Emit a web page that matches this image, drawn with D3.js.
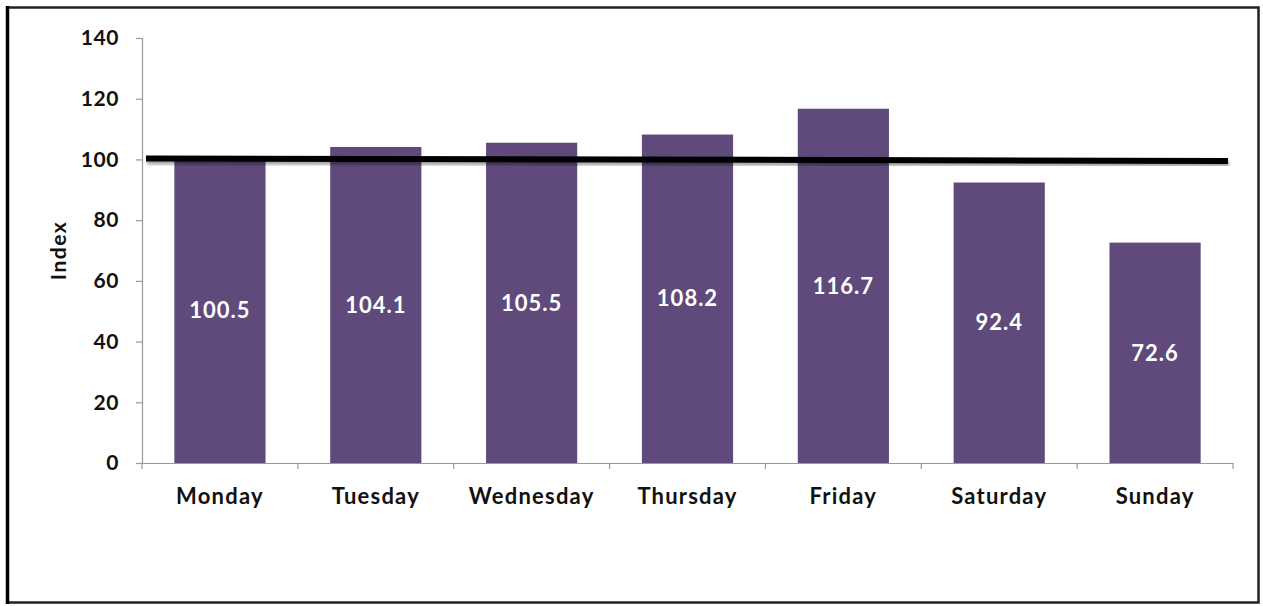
<!DOCTYPE html>
<html><head><meta charset="utf-8">
<script src="https://cdn.jsdelivr.net/npm/d3@7"></script>
<style>html,body{margin:0;padding:0;background:#fff;}svg{display:block;}</style>
</head><body>
<svg id="chart" width="1263" height="606"></svg>
<script>
const categories = ["Monday","Tuesday","Wednesday","Thursday","Friday","Saturday","Sunday"];
const values = [100.5, 104.1, 105.5, 108.2, 116.7, 92.4, 72.6];
const yTicks = [0, 20, 40, 60, 80, 100, 120, 140];
const referenceValue = 100;
const yLabel = "Index";

(function(){
const svg = d3.select("#chart");
const font = "Lato, 'Open Sans', sans-serif";

const defs = svg.append("defs");
const f = defs.append("filter").attr("id","sh").attr("x","-5%").attr("y","-200%").attr("width","110%").attr("height","500%");
f.append("feDropShadow").attr("dx",1).attr("dy",3).attr("stdDeviation",1.6).attr("flood-color","#000").attr("flood-opacity",0.35);

// frame
svg.append("rect").attr("x",7.5).attr("y",7.5).attr("width",1251).attr("height",595)
  .attr("fill","#fff").attr("stroke","#222").attr("stroke-width",2.5);
svg.append("line").attr("x1",7.5).attr("x2",7.5).attr("y1",6).attr("y2",604)
  .attr("stroke","#000").attr("stroke-width",3.5);

const mLeft = 142, mRight = 1233, mTop = 38, mBottom = 463;
const x = d3.scaleBand().domain(categories).range([mLeft, mRight]).padding(0);
const y = d3.scaleLinear().domain([0,140]).range([mBottom, mTop]);
const barW = x.bandwidth() * 0.585;

// bars
svg.append("g").selectAll("rect").data(values).join("rect")
  .attr("x",(d,i)=>x(categories[i]) + (x.bandwidth()-barW)/2)
  .attr("y",d=>y(d))
  .attr("width",barW)
  .attr("height",d=>y(0)-y(d))
  .attr("fill","#5f4a7b");

// y axis
const ya = svg.append("g").attr("transform",`translate(${mLeft},0)`)
  .call(d3.axisLeft(y).tickValues(yTicks).tickSize(6).tickPadding(17));
ya.select(".domain").attr("stroke","#999").attr("stroke-width",1.2);
ya.selectAll(".tick line").attr("stroke","#999").attr("stroke-width",1.2);
ya.selectAll(".tick text").attr("font-family",font).attr("font-weight","bold").attr("font-size",21)
  .attr("letter-spacing",0.6).attr("fill","#111");

// x axis
const xa = svg.append("g").attr("transform",`translate(0,${mBottom})`)
  .call(d3.axisBottom(x).tickSize(0).tickPadding(25));
xa.select(".domain").attr("stroke","#999").attr("stroke-width",1.2);
xa.selectAll(".tick text").attr("font-family",font).attr("font-weight","bold").attr("font-size",22)
  .attr("letter-spacing",1.2).attr("fill","#111");
// boundary ticks
const bounds = categories.map(c=>x(c)).concat([mRight]);
svg.append("g").selectAll("line").data(bounds).join("line")
  .attr("x1",d=>d).attr("x2",d=>d).attr("y1",mBottom).attr("y2",mBottom+6)
  .attr("stroke","#999").attr("stroke-width",1.2);

// value labels
svg.append("g").selectAll("text").data(values).join("text")
  .attr("x",(d,i)=>x(categories[i]) + x.bandwidth()/2)
  .attr("y",d=>y(d/2))
  .attr("dy","0.35em")
  .attr("text-anchor","middle")
  .attr("font-family",font).attr("font-weight","bold").attr("font-size",22)
  .attr("letter-spacing",1).attr("fill","#fff")
  .text(d=>d.toFixed(1));

// reference line
svg.append("line").attr("x1",mLeft+4).attr("x2",mRight-5)
  .attr("y1",y(referenceValue)-1).attr("y2",y(referenceValue)+1.5)
  .attr("stroke","#000").attr("stroke-width",6).attr("filter","url(#sh)");

// y label
svg.append("text").attr("transform",`translate(66,${(mTop+mBottom)/2}) rotate(-90)`)
  .attr("text-anchor","middle").attr("font-family",font).attr("font-weight","bold")
  .attr("font-size",21).attr("letter-spacing",1.5).attr("fill","#111").text(yLabel);
})();
</script>
</body></html>
